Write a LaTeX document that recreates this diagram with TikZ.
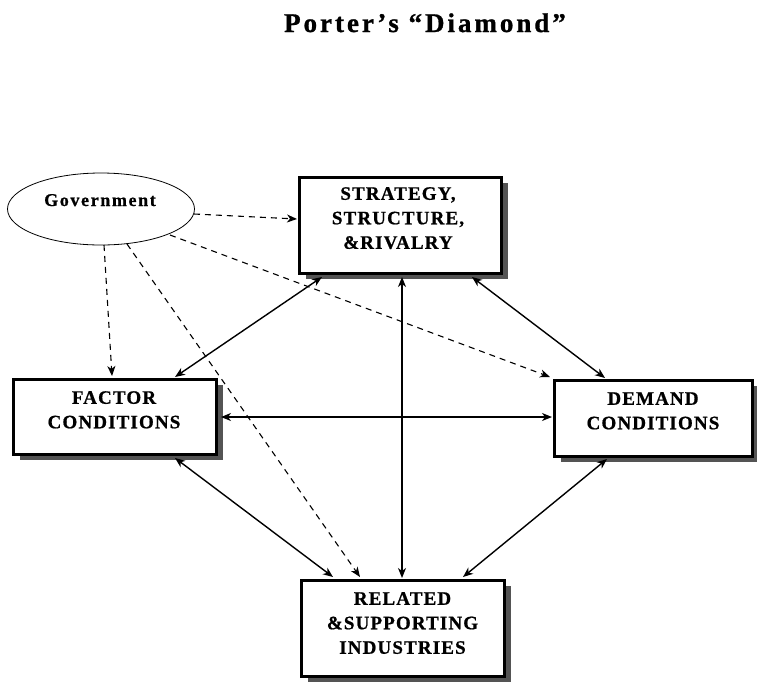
\documentclass[tikz,border=0pt]{standalone}
\usepackage{fontspec}
\setmainfont{Liberation Serif}
\newfontfamily\titlefont[LetterSpace=11,FakeBold=1]{Liberation Serif}
\newfontfamily\boxfont[LetterSpace=6,FakeBold=0.8]{Liberation Serif}
\newfontfamily\govfont[LetterSpace=9,FakeBold=0.8]{Liberation Serif}
\usetikzlibrary{arrows.meta,shapes.geometric,calc,shadows}
\tikzset{
  box/.style={draw, line width=3pt, fill=white, rectangle, inner sep=0pt, outer sep=0pt,
    drop shadow={shadow xshift=7pt, shadow yshift=-6pt, fill=black!67, opacity=1}},
  boxtext/.style={anchor=north, inner sep=0pt, align=center,
    font=\boxfont\bfseries\fontsize{19}{24.5}\selectfont},
  arr/.style={line width=1.4pt, {Stealth[length=10pt,width=8pt,inset=3pt]}-{Stealth[length=10pt,width=8pt,inset=3pt]}},
  dsh/.style={line width=1.1pt, dash pattern=on 6pt off 5pt, -{Stealth[length=10pt,width=8pt,inset=3pt]}}
}
\begin{document}
\begin{tikzpicture}[x=1pt,y=-1pt]
\fill[white] (0,0) rectangle (757,681);
\useasboundingbox (0,0) rectangle (757,681);

\node[anchor=base, inner sep=0pt, font=\titlefont\bfseries\fontsize{27}{30}\selectfont] (title) at (425,32) {Porter’s “Diamond”};

\node[box, minimum width=202pt, minimum height=96pt] (strat) at (400,225) {};
\node[box, minimum width=203pt, minimum height=75pt] (factor) at (114.5,416.5) {};
\node[box, minimum width=198pt, minimum height=76pt] (demand) at (653,418) {};
\node[box, minimum width=203pt, minimum height=96pt] (rel) at (402.5,628) {};
\node[draw, ellipse, line width=0.8pt, minimum width=187pt, minimum height=72pt, inner sep=0pt, outer sep=0pt] (gov) at (101,209) {};

\node[boxtext] (strattext) at (398,187) {STRATEGY,\\STRUCTURE,\\\&RIVALRY};
\node[boxtext] (factortext) at (114,391) {FACTOR\\CONDITIONS};
\node[boxtext] (demandtext) at (653,392) {DEMAND\\CONDITIONS};
\node[boxtext] (reltext) at (402.5,592) {RELATED\\\&SUPPORTING\\INDUSTRIES};
\node[anchor=base, inner sep=0pt, font=\govfont\bfseries\fontsize{18}{20}\selectfont] (govtext) at (100,206) {Government};

\draw[arr] ($(strat.south west)+(23,4)$) -- ($(factor.north west)+(162,-2)$);
\draw[arr] ($(strat.south east)+(-29,4)$) -- ($(demand.north west)+(51,-2)$);
\draw[arr] ($(strat.south)+(2,4)$) -- ($(rel.north)+(-0.5,-2)$);
\draw[arr] ($(factor.east)+(5,0.5)$) -- ($(demand.west)+(-2,-1)$);
\draw[arr] ($(factor.south west)+(162,4)$) -- ($(rel.north west)+(32,-3)$);
\draw[arr] ($(demand.south west)+(53,3)$) -- ($(rel.north east)+(-41,-3)$);

\draw[dsh] ($(gov.center)+(93,5)$) -- ($(strat.west)+(-2,-6)$);
\draw[dsh] ($(gov.south)+(3,0)$) -- ($(factor.north west)+(99,-3)$);
\draw[dsh] ($(gov.center)+(26,35)$) -- ($(rel.north west)+(59,-3)$);
\draw[dsh] ($(gov.center)+(69,26)$) -- ($(demand.north west)+(-4,-3)$);
\end{tikzpicture}
\end{document}
